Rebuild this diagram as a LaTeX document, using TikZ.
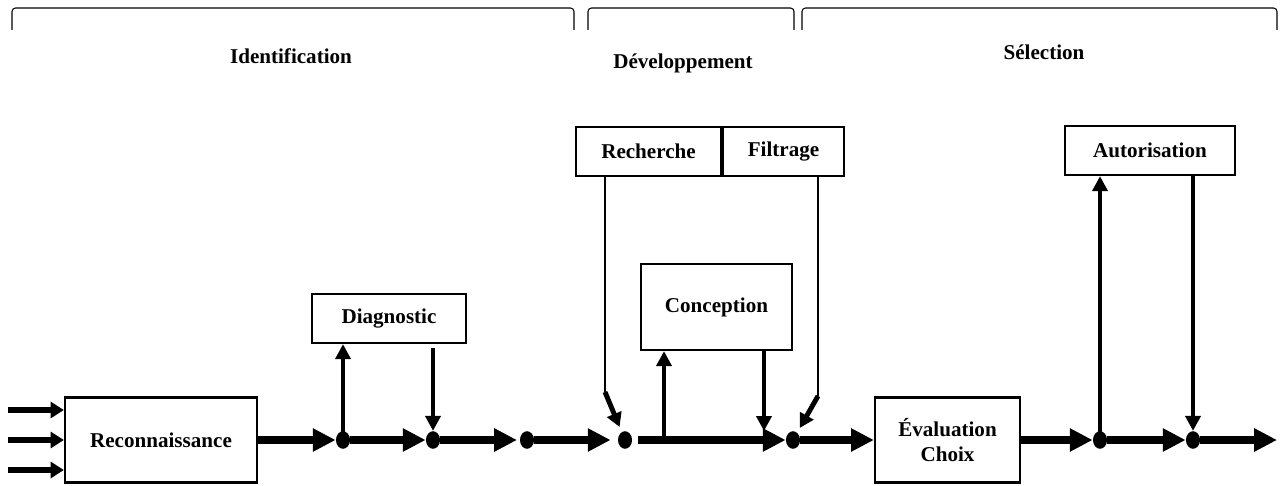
\documentclass[tikz,border=0pt]{standalone}
\usepackage{fontspec}
\setmainfont{Liberation Serif}
\usetikzlibrary{arrows.meta,shapes.geometric}

\begin{document}
\begin{tikzpicture}[x=0.02cm,y=-0.02cm,
  font=\bfseries\fontsize{12}{14}\selectfont,
  boite/.style={draw,line width=1.3pt,inner sep=0pt,align=center},
  point/.style={ellipse,fill=black,inner sep=0pt,minimum width=8pt,minimum height=10pt},
  flux/.style={line width=4.4pt,-{Triangle[length=13pt,width=12.5pt]}},
  entree/.style={line width=3.6pt,-{Triangle[length=7.5pt,width=9pt]}},
  retour/.style={line width=2.4pt,-{Triangle[length=8.5pt,width=8.5pt]}},
  fil/.style={line width=0.6pt},
  oblique/.style={line width=2.8pt,-{Triangle[length=8pt,width=8.5pt]}},
  accolade/.style={line width=0.6pt,rounded corners=2pt}]

  \useasboundingbox (0,0) rectangle (1280,486);

  %--- Phases ---
  \draw[accolade] (12,30) -- (12,8) -- (574,8) -- (574,30);
  \draw[accolade] (588,30) -- (588,8) -- (794,8) -- (794,30);
  \draw[accolade] (802,30) -- (802,8) -- (1277,8) -- (1277,30);
  \node (identif) at (291,56) {Identification};
  \node (develop) at (683,63) {Développement};
  \node (select)  at (1044,52) {Sélection};

  %--- Boîtes ---
  \node[boite,minimum width=3.84cm,minimum height=1.7cm]  (reco) at (161,440)   {Reconnaissance};
  \node[boite,minimum width=3.08cm,minimum height=0.98cm] (diag) at (389,318.5) {Diagnostic};
  \node[boite,minimum width=2.9cm,minimum height=0.98cm]  (rech) at (648.5,151.5) {Recherche};
  \node[boite,minimum width=2.42cm,minimum height=0.98cm] (filt) at (783.5,151.5) {Filtrage};
  \node[boite,minimum width=3.02cm,minimum height=1.72cm] (conc) at (716.5,307) {Conception};
  \node[boite,minimum width=2.9cm,minimum height=1.7cm]   (eval) at (947.5,440) {Évaluation\\Choix};
  \node[boite,minimum width=3.4cm,minimum height=0.98cm]  (auto) at (1150,150.5) {Autorisation};

  %--- Points de jonction ---
  \node[point] (p1) at (343,440) {};
  \node[point] (p2) at (433,440) {};
  \node[point] (p3) at (527,440) {};
  \node[point] (p4) at (625,440) {};
  \node[point] (p5) at (793,440) {};
  \node[point] (p6) at (1100,440) {};
  \node[point] (p7) at (1193,440) {};

  %--- Entrées ---
  \coordinate (e1) at (8,410);
  \coordinate (e2) at (8,440);
  \coordinate (e3) at (8,470);
  \draw[entree] (e1) -- (e1 -| reco.west);
  \draw[entree] (e2) -- (reco.west);
  \draw[entree] (e3) -- (e3 -| reco.west);

  %--- Flux principal ---
  \coordinate (fin) at (1277,440);
  \draw[flux] (reco.east) -- (p1.west);
  \draw[flux] (p1.east) -- (p2.west);
  \draw[flux,shorten >=1.5pt] (p2.east) -- (p3.west);
  \draw[flux,shorten >=4pt] (p3.east) -- (p4.west);
  \draw[flux,shorten <=3pt] (p4.east) -- (p5.west);
  \draw[flux] (p5.east) -- (eval.west);
  \draw[flux] (eval.east) -- (p6.west);
  \draw[flux] (p6.east) -- (p7.west);
  \draw[flux] (p7.east) -- (fin);

  %--- Diagnostic ---
  \coordinate (d2) at (433,348);
  \draw[retour] (p1.center) -- (p1 |- diag.south);
  \draw[retour] (d2) -- (p2.north);

  %--- Conception ---
  \coordinate (c1) at (664,436);
  \coordinate (c2) at (764,350);
  \coordinate (c3) at (764,431);
  \draw[retour] (c1) -- (c1 |- conc.south);
  \draw[retour] (c2) -- (c3);

  %--- Recherche et filtrage ---
  \coordinate (r1) at (605,392);
  \coordinate (f1) at (818,396);
  \draw[fil] (r1 |- rech.south) -- (r1);
  \draw[oblique,shorten >=3pt] (r1) -- (p4);
  \draw[fil] (f1 |- filt.south) -- (f1);
  \draw[oblique,shorten >=3pt] (f1) -- (p5);

  %--- Autorisation ---
  \coordinate (a2) at (1193,175);
  \draw[retour] (p6.center) -- (p6 |- auto.south);
  \draw[retour] (a2) -- (p7.north);

\end{tikzpicture}
\end{document}
